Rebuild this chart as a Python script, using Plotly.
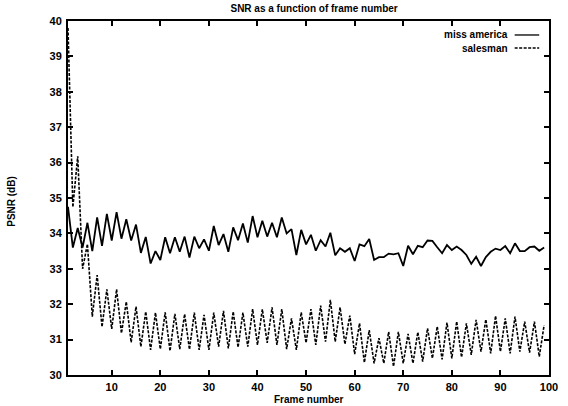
import plotly.graph_objects as go

frames = list(range(1, 100))

miss_america = [
    34.75, 33.6, 34.15, 33.6, 34.3, 33.5, 34.45, 33.65, 34.55, 33.8,
    34.6, 33.85, 34.4, 33.8, 34.25, 33.45, 33.9, 33.15, 33.5, 33.25,
    33.89, 33.44, 33.89, 33.48, 33.91, 33.32, 33.91, 33.58, 33.83, 33.51,
    34.21, 33.67, 33.98, 33.48, 34.17, 33.81, 34.28, 33.74, 34.49, 33.89,
    34.36, 33.91, 34.3, 33.89, 34.45, 34.0, 34.12, 33.39, 34.1, 33.69,
    33.96, 33.51, 33.81, 33.63, 34.02, 33.38, 33.58, 33.48, 33.58, 33.22,
    33.69, 33.64, 33.84, 33.25, 33.33, 33.33, 33.43, 33.41, 33.44, 33.08,
    33.65, 33.41, 33.65, 33.61, 33.8, 33.79, 33.61, 33.44, 33.67, 33.53,
    33.63, 33.53, 33.39, 33.14, 33.34, 33.08, 33.33, 33.48, 33.57, 33.53,
    33.64, 33.44, 33.72, 33.5, 33.5, 33.61, 33.63, 33.51, 33.6,
]

salesman = [
    39.8, 34.74, 36.18, 33.0, 33.7, 31.65, 32.82, 31.36, 32.42, 31.3,
    32.42, 31.18, 32.07, 30.92, 31.93, 30.8, 31.79, 30.71, 31.76, 30.73,
    31.77, 30.68, 31.73, 30.73, 31.72, 30.72, 31.76, 30.71, 31.7, 30.71,
    31.76, 30.8, 31.81, 30.75, 31.79, 30.78, 31.76, 30.8, 31.86, 30.85,
    31.86, 30.91, 31.91, 30.85, 31.86, 30.73, 31.6, 30.71, 31.77, 30.91,
    31.86, 30.85, 31.96, 30.94, 32.12, 30.94, 31.91, 30.87, 31.68, 30.59,
    31.46, 30.35, 31.27, 30.33, 31.04, 30.33, 31.22, 30.24, 31.22, 30.33,
    31.16, 30.33, 31.21, 30.38, 31.32, 30.47, 31.37, 30.44, 31.48, 30.47,
    31.51, 30.5, 31.46, 30.57, 31.56, 30.66, 31.57, 30.61, 31.67, 30.66,
    31.6, 30.61, 31.65, 30.66, 31.51, 30.63, 31.51, 30.52, 31.41,
]

x_ticks = [10, 20, 30, 40, 50, 60, 70, 80, 90, 100]
y_ticks = [30, 31, 32, 33, 34, 35, 36, 37, 38, 39, 40]

FONT = "Liberation Sans"
fig = go.Figure()
fig.add_trace(go.Scatter(x=frames, y=miss_america, mode="lines", name="miss america",
                         line=dict(color="black", width=1.8), showlegend=False))
fig.add_trace(go.Scatter(x=frames, y=salesman, mode="lines", name="salesman",
                         line=dict(color="black", width=1.6, dash="3px,1.5px"), showlegend=False))

axis_common = dict(showline=True, linecolor="black", linewidth=2, mirror="allticks",
                   ticks="inside", ticklen=5, tickwidth=1.5, tickcolor="black",
                   showgrid=False, zeroline=False,
                   tickfont=dict(family=FONT, size=11, color="black", weight="bold"))

fig.update_xaxes(range=[1, 100], tickvals=x_ticks, ticktext=[str(v) for v in x_ticks],
                 ticklabelstandoff=1, **axis_common)
fig.update_yaxes(range=[30, 40], tickvals=y_ticks, ticktext=[str(v) for v in y_ticks],
                 ticklabelstandoff=2, **axis_common)

# legend (gnuplot style: text right, sample line right of it)
legend_items = [("miss america", "solid", 0.9605), ("salesman", "3px,1.5px", 0.9237)]
for label, dash, yp in legend_items:
    fig.add_annotation(x=0.918, y=yp, xref="paper", yref="paper", text=label,
                       showarrow=False, xanchor="right", yanchor="middle",
                       font=dict(family=FONT, size=10, color="black", weight="bold"))
    fig.add_shape(type="line", xref="paper", yref="paper", x0=0.9286, x1=0.9796,
                  y0=yp, y1=yp, line=dict(color="black", width=1.3, dash=dash))

fig.add_annotation(x=0.5, y=-0.07, xref="paper", yref="paper", text="Frame number",
                   showarrow=False, xanchor="center", yanchor="middle",
                   font=dict(family=FONT, size=10, color="black", weight="bold"))
fig.add_annotation(x=-0.118, y=0.49, xref="paper", yref="paper", text="PSNR (dB)",
                   showarrow=False, xanchor="center", yanchor="middle", textangle=-90,
                   font=dict(family=FONT, size=10, color="black", weight="bold"))

fig.update_layout(
    width=568, height=406,
    margin=dict(l=68, r=10, t=21, b=31),
    paper_bgcolor="white", plot_bgcolor="white",
    title=dict(text="SNR as a function of frame number", x=0.553, xanchor="center",
               y=0.978, yanchor="middle",
               font=dict(family=FONT, size=10, color="black", weight="bold")),
)

fig.write_html("out.html")
